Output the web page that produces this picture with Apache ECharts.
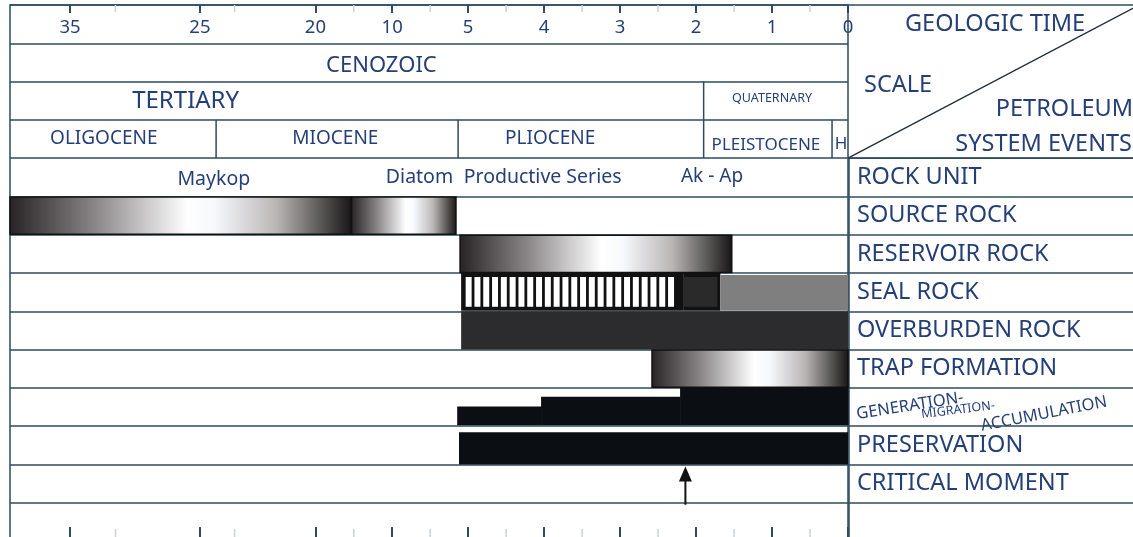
<!DOCTYPE html>
<html><head><meta charset="utf-8">
<script src="https://cdn.jsdelivr.net/npm/echarts@6/dist/echarts.min.js"></script>
<style>html,body{margin:0;padding:0;background:#fff;overflow:hidden}#c{width:1133px;height:537px}</style>
</head><body><div id="c"></div>
<script>
// ---------------- DATA ----------------
// geologic time scale (Ma) – the figure uses a stretched, piecewise scale
const tickAges = [35, 25, 20, 10, 5, 4, 3, 2, 1, 0];
const minorTickAges = [31.5, 23.5, 15, 7.5, 4.5, 3.5, 2.5, 1.5, 0.5];
const scaleAges  = [0, 5, 10, 20, 25, 35, 40];
const scaleUnits = [0, 5, 6, 7.01, 8.53, 10.24, 11.03];

// rows of the chart (top to bottom)
const timeRows = ['ticks', 'era', 'period', 'epoch', 'ROCK UNIT', 'SOURCE ROCK', 'RESERVOIR ROCK',
  'SEAL ROCK', 'OVERBURDEN ROCK', 'TRAP FORMATION', 'GENERATION-MIGRATION-ACCUMULATION',
  'PRESERVATION', 'CRITICAL MOMENT', 'axis'];
const eventLabels = ['ROCK UNIT', 'SOURCE ROCK', 'RESERVOIR ROCK', 'SEAL ROCK', 'OVERBURDEN ROCK',
  'TRAP FORMATION', 'GENERATION-MIGRATION-ACCUMULATION', 'PRESERVATION', 'CRITICAL MOMENT', ''];
const headerTitles = ['GEOLOGIC TIME', 'SCALE', 'PETROLEUM', 'SYSTEM EVENTS'];
const genLabelParts = ['GENERATION-', 'MIGRATION-', 'ACCUMULATION'];

// geologic units (ages in Ma)
const eraNames = ['CENOZOIC'];
const eraFrom = [40], eraTo = [0], eraLabelAge = [11.4];
const periodNames = ['TERTIARY', 'QUATERNARY'];
const periodFrom = [40, 1.9], periodTo = [1.9, 0], periodLabelAge = [26.1, 1.0];
const epochNames = ['OLIGOCENE', 'MIOCENE', 'PLIOCENE', 'PLEISTOCENE', 'H'];
const epochFrom = [40, 24.3, 5.66, 1.9, 0.21], epochTo = [24.3, 5.66, 1.9, 0.21, 0];
const epochLabelAge = [32.4, 17.4, 3.92, 1.08, 0.09];
const rockUnitNames = ['Maykop', 'Diatom', 'Productive Series', 'Ak - Ap'];
const rockUnitAge = [24.4, 8.2, 4.02, 1.79];

// petroleum system events
const barEvent = ['SOURCE ROCK', 'SOURCE ROCK', 'RESERVOIR ROCK', 'SEAL ROCK', 'SEAL ROCK', 'SEAL ROCK',
  'OVERBURDEN ROCK', 'TRAP FORMATION', 'PRESERVATION'];
const barFrom = [40, 15.3, 5.53, 5.46, 2.17, 1.68, 5.46, 2.58, 5.6];
const barTo   = [15.3, 5.8, 1.53, 2.17, 1.68, 0, 0, 0, 0];
const barKind = ['grad', 'grad', 'grad', 'hatch', 'dark', 'gray', 'solid', 'grad', 'black'];

const genFrom  = [5.72, 4.04, 2.21];
const genTo    = [4.04, 2.21, 0];
const genLevel = [0.5, 0.76, 1];

const criticalMomentAge = [2.14];

// ---------------- STYLE / LAYOUT ----------------
const W = 1133, H = 537;
const TOP = 5, LEFT = 10, DIV = 848, EXT = 4;
const ROWH = (H + EXT - TOP) / timeRows.length;
const LINE = '#2f4b5c';
const TXT = '#243f78';
const FONT = '"Noto Sans", "Open Sans", sans-serif';
const unitFont = {CENOZOIC: 22, TERTIARY: 24, QUATERNARY: 12.5, OLIGOCENE: 19, MIOCENE: 19, PLIOCENE: 19,
  PLEISTOCENE: 17, H: 17, Maykop: 19.5, Diatom: 19.5, 'Productive Series': 19.5, 'Ak - Ap': 19};
const unitDy = {CENOZOIC: 3, QUATERNARY: -2, PLEISTOCENE: 6, H: 5, Maykop: 2, 'Ak - Ap': -1};
const gradStops = [
  {offset: 0, color: '#272223'}, {offset: 0.25, color: '#8a8687'}, {offset: 0.52, color: '#ffffff'},
  {offset: 0.6, color: '#f6f8fb'}, {offset: 0.78, color: '#b9b5b5'}, {offset: 1, color: '#161414'}];
const kindFill = {dark: '#2a2a2a', gray: '#7f7f7f', solid: '#2c2c2e', black: '#0b0e13'};

function toU(age) {
  for (let i = 1; i < scaleAges.length; i++) {
    if (age <= scaleAges[i]) {
      const t = (age - scaleAges[i - 1]) / (scaleAges[i] - scaleAges[i - 1]);
      return scaleUnits[i - 1] + t * (scaleUnits[i] - scaleUnits[i - 1]);
    }
  }
  return scaleUnits[scaleUnits.length - 1];
}
const U_MAX = toU(40);
const rowIdx = name => timeRows.indexOf(name);

// header units combined
const headerItems = [];
eraNames.forEach((n, i) => headerItems.push({name: n, row: 1, from: eraFrom[i], to: eraTo[i], at: eraLabelAge[i], div: true}));
periodNames.forEach((n, i) => headerItems.push({name: n, row: 2, from: periodFrom[i], to: periodTo[i], at: periodLabelAge[i], div: true}));
epochNames.forEach((n, i) => headerItems.push({name: n, row: 3, from: epochFrom[i], to: epochTo[i], at: epochLabelAge[i], div: true}));
rockUnitNames.forEach((n, i) => headerItems.push({name: n, row: 4, from: rockUnitAge[i], to: rockUnitAge[i], at: rockUnitAge[i], div: false}));

function bandRect(api, u0, u1, row) {
  const p0 = api.coord([u0, row]), p1 = api.coord([u1, row]);
  const h = api.size([0, 1])[1];
  return {x: Math.min(p0[0], p1[0]), y: p0[1] - h / 2, w: Math.abs(p1[0] - p0[0]), h: h};
}

const chart = echarts.init(document.getElementById('c'), null, {renderer: 'canvas'});
const headerBottom = TOP + 4 * ROWH;
const genRowY = TOP + (rowIdx('GENERATION-MIGRATION-ACCUMULATION') + 0.5) * ROWH;

const option = {
  animation: false,
  backgroundColor: '#fff',
  textStyle: {fontFamily: FONT},
  grid: [
    {left: LEFT, top: TOP, right: W - DIV, bottom: -EXT, outerBoundsMode: 'none', show: true, borderColor: LINE, borderWidth: 1.5, containLabel: false},
    {left: DIV + 1, top: headerBottom, right: -3, bottom: -EXT, outerBoundsMode: 'none', show: true, borderColor: LINE, borderWidth: 1.5}
  ],
  xAxis: [
    {gridIndex: 0, type: 'value', min: 0, max: U_MAX, inverse: true, position: 'top',
      axisLine: {show: false}, splitLine: {show: false},
      axisTick: {show: true, inside: true, length: 8, customValues: tickAges.map(toU), lineStyle: {color: LINE, width: 2}},
      axisLabel: {show: true, inside: true, margin: 13, customValues: tickAges.map(toU), color: TXT, fontSize: 18.5, fontFamily: FONT,
        formatter: v => { let best = tickAges[0]; tickAges.forEach(a => { if (Math.abs(toU(a) - v) < Math.abs(toU(best) - v)) best = a; }); return String(best); }}},
    {gridIndex: 0, type: 'value', min: 0, max: U_MAX, inverse: true, position: 'bottom',
      axisLine: {show: false}, splitLine: {show: false}, axisLabel: {show: false},
      axisTick: {show: true, inside: true, length: 14, customValues: tickAges.map(toU), lineStyle: {color: LINE, width: 2}}},
    {gridIndex: 1, type: 'value', min: 0, max: 1, show: false}
  ],
  yAxis: [
    {gridIndex: 0, type: 'category', data: timeRows, inverse: true,
      axisLine: {show: false}, axisTick: {show: false}, axisLabel: {show: false},
      splitLine: {show: true, lineStyle: {color: LINE, width: 1.5}}},
    {gridIndex: 1, type: 'category', data: eventLabels, inverse: true,
      axisLine: {show: false}, axisTick: {show: false},
      axisLabel: {show: true, inside: true, margin: 8, align: 'left', color: TXT, fontSize: 23.5, fontFamily: FONT,
        formatter: v => v.indexOf('GENERATION') === 0 ? '' : v},
      splitLine: {show: true, lineStyle: {color: LINE, width: 1.5}}}
  ],
  series: [
    { // minor ticks
      type: 'custom', xAxisIndex: 0, yAxisIndex: 0, silent: true,
      data: minorTickAges.map(a => [toU(a)]),
      encode: {x: 0},
      renderItem: (params, api) => {
        const x = api.coord([api.value(0), 0])[0];
        const top = TOP, bot = H + EXT;
        return {type: 'group', children: [
          {type: 'line', shape: {x1: x, y1: top, x2: x, y2: top + 7}, style: {stroke: '#c9d2d6', lineWidth: 1.5}},
          {type: 'line', shape: {x1: x, y1: bot - 12, x2: x, y2: bot}, style: {stroke: '#c9d2d6', lineWidth: 1.5}}
        ]};
      }
    },
    { // geologic units & rock units
      type: 'custom', xAxisIndex: 0, yAxisIndex: 0, silent: true,
      data: headerItems.map(h => [toU(h.from), toU(h.to), h.row, toU(h.at)]),
      encode: {x: [0, 1, 3], y: 2},
      renderItem: (params, api) => {
        const it = headerItems[params.dataIndex];
        const row = api.value(2);
        const yC = api.coord([0, row])[1];
        const bh = api.size([0, 1])[1];
        const xT = api.coord([api.value(3), row])[0];
        const children = [{type: 'text', style: {text: it.name, x: xT, y: yC + (unitDy[it.name] || 0),
          align: 'center', verticalAlign: 'middle', fontSize: unitFont[it.name] || 19, fontFamily: FONT, fill: TXT}}];
        if (it.div && it.to > 0) {
          const xd = api.coord([api.value(1), row])[0];
          children.push({type: 'line', shape: {x1: xd, y1: yC - bh / 2, x2: xd, y2: yC + bh / 2}, style: {stroke: LINE, lineWidth: 1.5}});
        }
        return {type: 'group', children};
      }
    },
    { // event bars
      type: 'custom', xAxisIndex: 0, yAxisIndex: 0, silent: true,
      data: barEvent.map((e, i) => [toU(barFrom[i]), toU(barTo[i]), rowIdx(e)]),
      encode: {x: [0, 1], y: 2},
      renderItem: (params, api) => {
        const i = params.dataIndex, kind = barKind[i];
        const r = bandRect(api, api.value(0), api.value(1), api.value(2));
        if (kind === 'grad') {
          return {type: 'rect', shape: {x: r.x, y: r.y + 0.5, width: r.w, height: r.h - 1},
            style: {fill: {type: 'linear', x: 0, y: 0, x2: 1, y2: 0, colorStops: gradStops}, stroke: '#111', lineWidth: 1.5}};
        }
        if (kind === 'hatch') {
          const kids = [{type: 'rect', shape: {x: r.x, y: r.y, width: r.w, height: r.h - 0.5}, style: {fill: '#111'}}];
          const period = 8.8, sw = 6, pad = 4;
          for (let s = r.x + 4.5; s + sw <= r.x + r.w - 0.5; s += period) {
            kids.push({type: 'rect', shape: {x: s, y: r.y + pad, width: sw, height: r.h - 2 * pad - 0.5}, style: {fill: '#fff'}});
          }
          return {type: 'group', children: kids};
        }
        if (kind === 'dark') {
          return {type: 'group', children: [
            {type: 'rect', shape: {x: r.x, y: r.y, width: r.w, height: r.h - 0.5}, style: {fill: '#111'}},
            {type: 'rect', shape: {x: r.x, y: r.y + 4, width: r.w - 3, height: r.h - 8.5}, style: {fill: kindFill.dark}}]};
        }
        if (kind === 'black') {
          return {type: 'rect', shape: {x: r.x, y: r.y + 6, width: r.w, height: r.h - 6}, style: {fill: kindFill.black}};
        }
        return {type: 'rect', shape: {x: r.x, y: r.y + (kind === 'gray' ? 2 : 0), width: r.w, height: r.h - (kind === 'gray' ? 2.5 : 0)}, style: {fill: kindFill[kind]}};
      }
    },
    { // generation-migration-accumulation
      type: 'custom', xAxisIndex: 0, yAxisIndex: 0, silent: true,
      data: genFrom.map((f, i) => [toU(f), toU(genTo[i]), rowIdx('GENERATION-MIGRATION-ACCUMULATION'), genLevel[i]]),
      encode: {x: [0, 1], y: 2},
      renderItem: (params, api) => {
        const r = bandRect(api, api.value(0), api.value(1), api.value(2));
        const hh = (r.h - 1) * api.value(3);
        return {type: 'rect', shape: {x: r.x, y: r.y + r.h - 1 - hh, width: r.w + 0.5, height: hh}, style: {fill: kindFill.black}};
      }
    },
    { // critical moment
      type: 'custom', xAxisIndex: 0, yAxisIndex: 0, silent: true,
      data: criticalMomentAge.map(a => [toU(a), rowIdx('CRITICAL MOMENT')]),
      encode: {x: 0, y: 1},
      renderItem: (params, api) => {
        const p = api.coord([api.value(0), api.value(1)]);
        const bh = api.size([0, 1])[1];
        const yTop = p[1] - bh / 2 + 2, yBot = p[1] + bh / 2 + 2;
        return {type: 'group', children: [
          {type: 'line', shape: {x1: p[0], y1: yTop + 12, x2: p[0], y2: yBot}, style: {stroke: '#111', lineWidth: 2}},
          {type: 'polygon', shape: {points: [[p[0], yTop], [p[0] - 6.5, yTop + 15], [p[0] + 6.5, yTop + 15]]}, style: {fill: '#111'}}
        ]};
      }
    }
  ],
  graphic: [
    {type: 'line', shape: {x1: DIV, y1: TOP, x2: W + 2, y2: TOP}, style: {stroke: LINE, lineWidth: 1.5}},
    {type: 'line', shape: {x1: DIV, y1: headerBottom, x2: W + 8, y2: TOP - 1}, style: {stroke: '#1e2e3a', lineWidth: 1.3}},
    {type: 'text', x: 905, y: 24, style: {text: headerTitles[0], fontSize: 23.5, fontFamily: FONT, fill: TXT, align: 'left', verticalAlign: 'middle'}},
    {type: 'text', x: 864, y: 85, style: {text: headerTitles[1], fontSize: 23.5, fontFamily: FONT, fill: TXT, align: 'left', verticalAlign: 'middle'}},
    {type: 'text', x: 1133, y: 109, style: {text: headerTitles[2], fontSize: 23.5, fontFamily: FONT, fill: TXT, align: 'right', verticalAlign: 'middle'}},
    {type: 'text', x: 1132, y: 144, style: {text: headerTitles[3], fontSize: 23.5, fontFamily: FONT, fill: TXT, align: 'right', verticalAlign: 'middle'}},
    {type: 'text', x: 910, y: genRowY - 1, rotation: 9 * Math.PI / 180, style: {text: genLabelParts[0], fontSize: 16.5, fontFamily: FONT, fill: TXT, align: 'center', verticalAlign: 'middle'}},
    {type: 'text', x: 958, y: genRowY + 3, rotation: 7 * Math.PI / 180, style: {text: genLabelParts[1], fontSize: 12.5, fontFamily: FONT, fill: TXT, align: 'center', verticalAlign: 'middle'}},
    {type: 'text', x: 1044, y: genRowY + 7, rotation: 11 * Math.PI / 180, style: {text: genLabelParts[2], fontSize: 16.5, fontFamily: FONT, fill: TXT, align: 'center', verticalAlign: 'middle'}}
  ]
};
chart.setOption(option);
</script></body></html>
